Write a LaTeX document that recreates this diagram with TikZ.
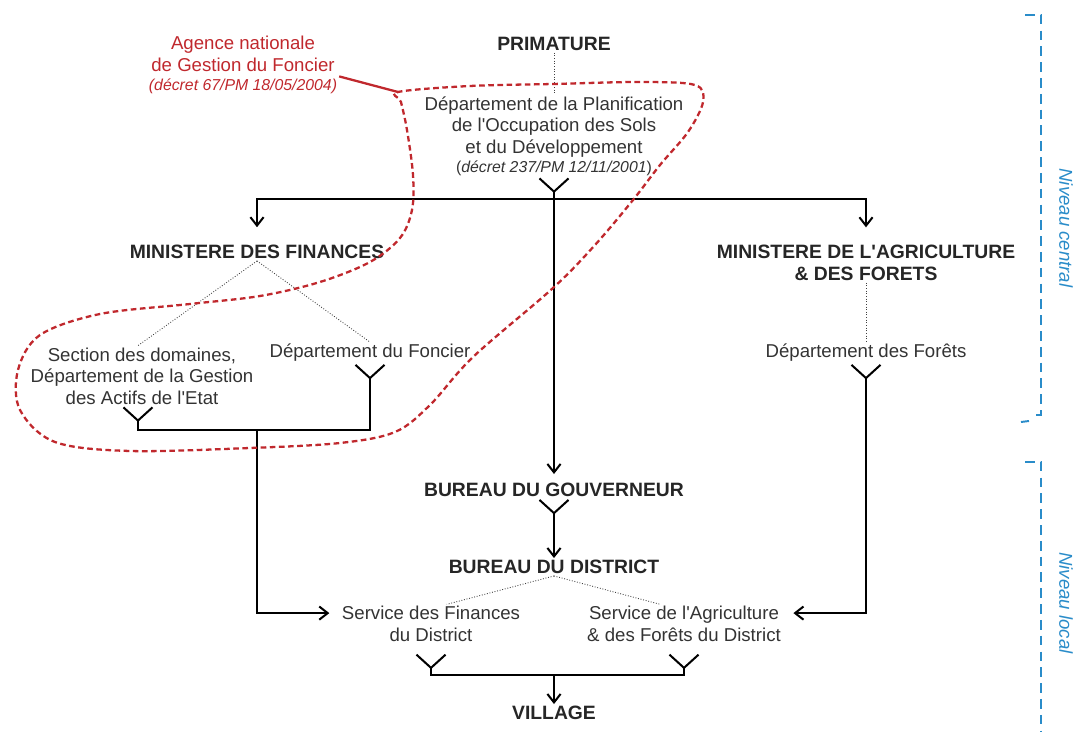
\documentclass[tikz,border=0pt]{standalone}
\usepackage{fontspec}
\setmainfont{Liberation Sans}
\usetikzlibrary{arrows.meta, positioning}

\definecolor{agred}{HTML}{C0282D}
\definecolor{lvlblue}{HTML}{2A8CC9}
\definecolor{ink}{HTML}{333333}
\newcommand{\decrfont}{\fontsize{9}{11}\selectfont}

\begin{document}
\begin{tikzpicture}[
    x=0.02cm, y=-0.02cm,
    head/.style={font=\bfseries\fontsize{11}{12.4}\selectfont, text=black!85, align=center, inner sep=1pt},
    txt/.style={font=\fontsize{10.6}{12.2}\selectfont, text=ink, align=center, inner sep=1pt},
    agtxt/.style={font=\fontsize{10.6}{12.2}\selectfont, text=agred, align=center, inner sep=1pt},
    lvltxt/.style={font=\itshape\fontsize{10.6}{12.2}\selectfont, text=lvlblue, inner sep=1pt},
    link/.style={densely dotted, line width=0.5pt, black!75},
    arr/.style={line width=1.15pt, -{Straight Barb[length=4.8pt,width=7.5pt]}},
    fork/.style={line width=1.15pt, {Straight Barb[reversed,length=7.5pt,width=16.5pt]}-},
    forkarr/.style={line width=1.15pt, {Straight Barb[reversed,length=7.5pt,width=16.5pt]}-{Straight Barb[length=4.8pt,width=7.5pt]}},
    zone/.style={draw=agred, line width=1.3pt, dash pattern=on 3.2pt off 2pt},
    agline/.style={draw=agred, line width=1.3pt},
    lvl/.style={draw=lvlblue, line width=1.1pt, dash pattern=on 5.5pt off 3.5pt}
]
\useasboundingbox (0,0) rectangle (1076,732);

% niveau central
\node[head] (prim) at (554,44) {PRIMATURE};
\node[txt] (dplan) at (554,136) {Département de la Planification\\de l\textquotesingle Occupation des Sols\\et du Développement\\[-1.5pt]{\decrfont (\textit{décret 237/PM 12/11/2001})}};
\node[head] (minfin) at (257,252) {MINISTERE DES FINANCES};
\node[head] (minagri) at (866,263) {MINISTERE DE L\textquotesingle AGRICULTURE\\\& DES FORETS};
\node[txt] (sdom) at (142,376) {Section des domaines,\\Département de la Gestion\\des Actifs de l\textquotesingle Etat};
\node[txt] (dfon) at (370,353) {Département du Foncier};
\node[txt] (dfor) at (866,353) {Département des Forêts};

% niveau local
\node[head] (gouv) at (554,490) {BUREAU DU GOUVERNEUR};
\node[head] (dist) at (554,567) {BUREAU DU DISTRICT};
\node[txt] (sfin) at (431,624) {Service des Finances\\du District};
\node[txt] (sagr) at (684,624) {Service de l\textquotesingle Agriculture\\\& des Forêts du District};
\node[head] (village) at (554,713) {VILLAGE};

\coordinate (jtop) at (554,199);
\coordinate (jfin) at (257,430);
\coordinate (jvil) at (554,675);

% rattachements
\draw[link] (prim) -- (dplan);
\draw[link] (minfin.south) -- ([xshift=-2.3pt]sdom.north);
\draw[link] (minfin.south) -- (dfon.north);
\draw[link] (minagri) -- (dfor);
\draw[link] (dist.south) -- ([xshift=9pt]sfin.north);
\draw[link] (dist.south) -- ([xshift=-13.6pt]sagr.north);

% flux
\draw[forkarr, shorten >=4pt] (dplan) -- (gouv);
\draw[arr, shorten >=9pt] (jtop) -| (minfin);
\draw[arr, shorten >=9pt] (jtop) -| (minagri);
\draw[fork] ([xshift=-2.3pt]sdom.south) |- (jfin);
\draw[fork] (dfon.south) |- (jfin);
\draw[arr, shorten >=6pt] (jfin) |- ([yshift=6.2pt]sfin.west);
\draw[forkarr, shorten >=6pt] (dfor.south) |- ([yshift=6.2pt]sagr.east);
\draw[forkarr] (gouv) -- (dist);
\draw[fork, shorten <=5.7pt] (sfin.south) |- (jvil);
\draw[fork, shorten <=5.7pt] (sagr.south) |- (jvil);
\draw[arr] (jvil) -- (village);

% agence nationale
\node[agtxt] (agence) at (243,65) {Agence nationale\\de Gestion du Foncier\\[-1.5pt]{\decrfont\itshape (décret 67/PM 18/05/2004)}};
\coordinate (zc) at (398,92);
\draw[agline] ([yshift=-6.5pt]agence.east) -- (zc);
\draw[zone] plot[smooth cycle, tension=0.55] coordinates {
  (398,92) (470,86) (553,84) (640,82) (695,85) (703,102) (688,132) (660,165)
  (633,200) (595,245) (553,288) (473,357) (430,405) (395,432) (340,443)
  (250,448) (130,451) (55,442) (20,410) (18,370) (40,335) (100,314)
  (190,304) (260,296) (320,282) (370,262) (400,238) (412,210) (413,175)
  (407,130) (401,102)};

% niveaux
\draw[lvl] (1025,15) -- (1041,15) -- (1041,415) -- (1031,415);
\draw[lvl] (1021,422) -- (1029,421);
\draw[lvl] (1025,462) -- (1041,462) -- (1041,740) -- (1031,740);
\node[lvltxt, rotate=-90] (central) at (1066,228) {Niveau central};
\node[lvltxt, rotate=-90] (local) at (1066,603) {Niveau local};
\end{tikzpicture}
\end{document}
